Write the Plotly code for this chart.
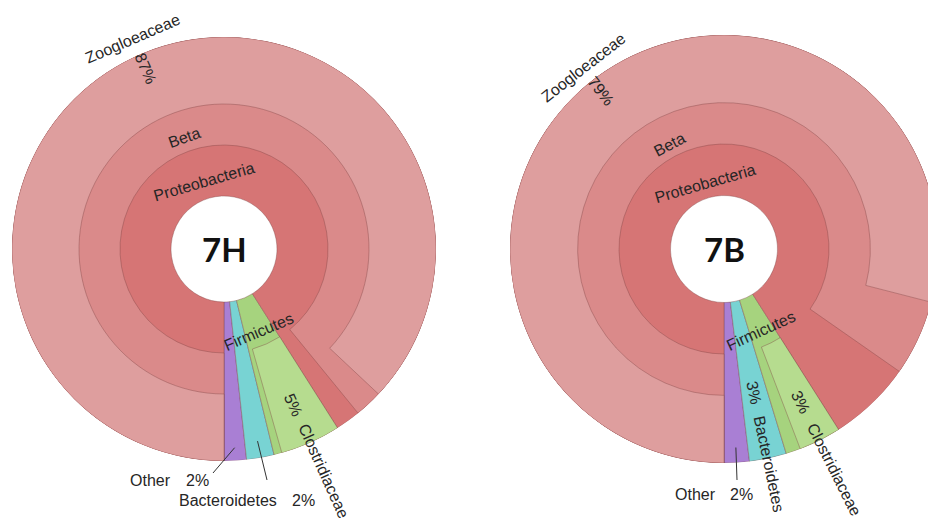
import math
import plotly.graph_objects as go

W, H = 940, 522   # figure drawn slightly wider than the window so the right chart is cropped like the reference

# ---------------- data ----------------
samples = ["7H", "7B"]
taxa = ["Other", "Bacteroidetes", "Firmicutes", "Clostridiaceae",
        "Proteobacteria", "Beta", "Zoogloeaceae"]
parents = ["", "", "", "Firmicutes", "", "Proteobacteria", "Beta"]
pct_7H = [1.7, 2.1, 5.2, 4.6, 91.0, 89.1, 87.0]
pct_7B = [1.9, 2.8, 4.3, 3.2, 91.0, 84.7, 79.0]
values = {"7H": pct_7H, "7B": pct_7B}

# ---------------- style ----------------
colors = {
    "Other": "#A97FD4",
    "Bacteroidetes": "#78D3D3",
    "Firmicutes": "#A6D37E",
    "Clostridiaceae": "#B6DC8F",
    "Proteobacteria": "#D67575",
    "Beta": "#DA8A8A",
    "Zoogloeaceae": "#DE9E9E",
}
RING = [53, 104, 145]      # inner radius of depth 1,2,3 (axis units)
R_OUT = 212                # outer radius (axis units)
# chart centre (px) and pixel radius
CHART = {"7H": (224, 249, 212), "7B": (724, 249, 214)}
LABEL_FONT = dict(family="Liberation Sans, Arial, sans-serif", size=16, color="#262626")

# label placement (radii in axis units)
LABELS = {
    "7H": [("Zoogloeaceae", "tan", 229, "name"), ("Zoogloeaceae", "rad", 197, "pct"),
           ("Beta", "tan", 118, "name"), ("Proteobacteria", "tan", 70, "name"),
           ("Firmicutes", "tan", 90, "name"),
           ("Clostridiaceae", "rad", 171, "pct"), ("Clostridiaceae", "rad", 243, "name")],
    "7B": [("Zoogloeaceae", "tan", 227, "name"), ("Zoogloeaceae", "rad", 198, "pct"),
           ("Beta", "tan", 117, "name"), ("Proteobacteria", "tan", 68, "name"),
           ("Firmicutes", "tan", 89, "name"),
           ("Bacteroidetes", "rad", 145, "pct"), ("Bacteroidetes", "rad", 218, "name"),
           ("Clostridiaceae", "rad", 170, "pct"), ("Clostridiaceae", "rad", 244, "name")],
}
# leader-line labels: node, inner radius of line, line end offset (px from centre),
# then (kind, dx, dy, xanchor) offsets from centre
LEADERS = {
    "7H": [("Other", 199, (-11, 224), [("name", -51, 231, "right"), ("pct", -13, 231, "right")]),
           ("Bacteroidetes", 195, (43, 231), [("name", -47, 251, "left"), ("pct", 66, 251, "left")])],
    "7B": [("Other", 197, (13, 231), [("name", -51, 245, "left"), ("pct", 4, 245, "left")])],
}


def layout_nodes(vals):
    spans, depth, cursor = {}, {}, {}
    a = 0.0
    for t, p, v in zip(taxa, parents, vals):
        w = v * 3.6
        if p == "":
            spans[t] = (a, a + w)
            depth[t] = 1
            a += w
        else:
            end = cursor.get(p, spans[p][1])
            spans[t] = (end - w, end)
            cursor[p] = end - w
            depth[t] = depth[p] + 1
    return spans, depth


def to_paper(s, r, th):
    cx, cy, rp = CHART[s]
    k = rp / R_OUT
    t = math.radians(th)
    px = cx + r * k * math.sin(t)
    py = cy + r * k * math.cos(t)
    return px / W, 1 - py / H


def tan_angle(th):
    t = math.radians(th)
    a = math.degrees(math.atan2(math.sin(t), -math.cos(t)))
    if math.cos(t) > 0:
        a += 180
    if a > 180:
        a -= 360
    return a


def rad_angle(th):
    t = math.radians(th)
    if math.cos(t) > 0:
        return math.degrees(math.atan2(math.cos(t), math.sin(t)))
    return math.degrees(math.atan2(-math.cos(t), -math.sin(t)))


fig = go.Figure()
annotations, shapes = [], []

for i, s in enumerate(samples):
    vals = values[s]
    spans, depth = layout_nodes(vals)
    order = sorted(taxa, key=lambda t: depth[t])
    fig.add_trace(go.Barpolar(
        theta=[(spans[t][0] + spans[t][1]) / 2 for t in order],
        width=[spans[t][1] - spans[t][0] for t in order],
        base=[RING[depth[t] - 1] for t in order],
        r=[R_OUT - RING[depth[t] - 1] for t in order],
        marker=dict(color=[colors[t] for t in order],
                    line=dict(color="rgba(130,70,70,0.4)", width=1)),
        hoverinfo="skip",
        subplot="polar" if i == 0 else "polar2",
        showlegend=False,
    ))
    cx, cy, rp = CHART[s]
    pol = dict(
        domain=dict(x=[(cx - rp) / W, (cx + rp) / W], y=[1 - (cy + rp) / H, 1 - (cy - rp) / H]),
        bgcolor="rgba(0,0,0,0)", barmode="overlay",
        radialaxis=dict(range=[0, R_OUT], visible=False),
        angularaxis=dict(rotation=-90, direction="counterclockwise", visible=False),
    )
    fig.update_layout(**{"polar" if i == 0 else "polar2": pol})

    vmap = dict(zip(taxa, vals))
    for node, kind, r, what in LABELS[s]:
        th = (spans[node][0] + spans[node][1]) / 2
        x, y = to_paper(s, r, th)
        text = node if what == "name" else f"{round(vmap[node])}%"
        ang = tan_angle(th) if kind == "tan" else rad_angle(th)
        annotations.append(dict(x=x, y=y, xref="paper", yref="paper", text=text,
                                textangle=ang, showarrow=False, font=LABEL_FONT,
                                xanchor="center", yanchor="middle"))

    for node, rin, (ex, ey), items in LEADERS[s]:
        th = (spans[node][0] + spans[node][1]) / 2
        x0, y0 = to_paper(s, rin, th)
        x1, y1 = (cx + ex) / W, 1 - (cy + ey) / H
        shapes.append(dict(type="line", xref="paper", yref="paper", x0=x0, y0=y0, x1=x1, y1=y1,
                           line=dict(color="#333333", width=1)))
        for what, dx, dy, xa in items:
            text = node if what == "name" else f"{round(vmap[node])}%"
            annotations.append(dict(x=(cx + dx) / W, y=1 - (cy + dy) / H, xref="paper", yref="paper",
                                    text=text, showarrow=False, font=LABEL_FONT,
                                    xanchor=xa, yanchor="middle"))

    annotations.append(dict(x=cx / W, y=1 - cy / H, xref="paper", yref="paper",
                            text=f"<b>{s}</b>", showarrow=False,
                            font=dict(family="Lato, Carlito, sans-serif", size=33, color="#111111"),
                            xanchor="center", yanchor="middle"))

fig.update_layout(
    width=W, height=H, margin=dict(l=0, r=0, t=0, b=0),
    paper_bgcolor="white", plot_bgcolor="white", hovermode=False,
    annotations=annotations, shapes=shapes, showlegend=False,
)
fig.write_html(
    "out.html",
    config={"displayModeBar": False},
    post_script="document.body.style.margin='0px';"
                "document.body.style.overflow='hidden';"
                "document.documentElement.style.overflow='hidden';",
)
